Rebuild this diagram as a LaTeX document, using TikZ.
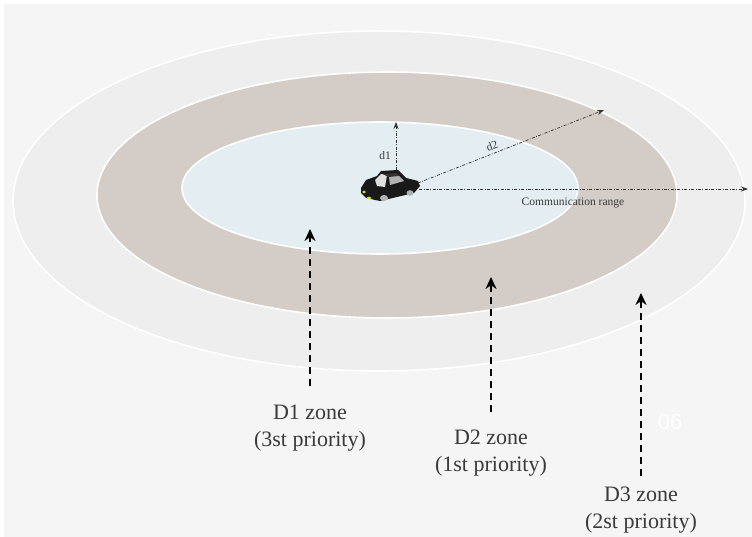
\documentclass[tikz,border=0pt]{standalone}
\usepackage{fontspec}
\setmainfont{Liberation Serif}
\newfontfamily\marksans{Liberation Sans}
\usetikzlibrary{arrows.meta}

\definecolor{bgcol}{HTML}{F5F5F5}
\definecolor{zoneDthree}{HTML}{EEEEEE}
\definecolor{zoneDtwo}{HTML}{D4CCC7}
\definecolor{zoneDone}{HTML}{E4EEF2}
\definecolor{inkgray}{HTML}{3A3A3A}

\tikzset{
  zone/.style={draw=white, line width=1.6pt},
  rangeline/.style={black!80, line width=0.7pt,
    dash pattern=on 3pt off 1.5pt on 0.8pt off 1.5pt,
    -{Stealth[length=7pt,width=5pt]}},
  zonearrow/.style={black, line width=2.8pt, dash pattern=on 7pt off 5pt,
    -{Stealth[length=12pt,width=11pt]}},
  zonelabel/.style={inkgray, font=\fontsize{22}{27}\selectfont, align=center},
  smalllabel/.style={inkgray, font=\fontsize{11.5}{13}\selectfont, inner sep=1pt},
}

\begin{document}
\begin{tikzpicture}[x=1pt, y=-1pt]
    \fill[white] (0,0) rectangle (752,537);
    \fill[bgcol] (4,4) rectangle (752,537);

    % the three zones, outermost first
    \draw[zone, fill=zoneDthree] (379,201) ellipse [x radius=366, y radius=170];
    \draw[zone, fill=zoneDtwo]   (387,195) ellipse [x radius=290, y radius=123];
    \draw[zone, fill=zoneDone]   (380,188) ellipse [x radius=198, y radius=66];

    % car
    \fill[black!90] (361,188) -- (366,180) -- (377,176) -- (381,171) -- (398,170)
        -- (406,178) -- (418,181) -- (420,186) -- (414,193) -- (380,201)
        -- (366,198) -- (361,193) -- cycle;
    \fill[white!75!gray] (375,180) -- (381,174) -- (387,175) -- (385,187) -- (377,186) -- cycle;
    \fill[gray!60] (389,177) -- (398,175) -- (404,181) -- (390,185) -- cycle;
    \fill[black!80] (383,174) -- (397,173) -- (399,176) -- (388,177) -- cycle;
    \fill[gray!60] (384,198) ellipse [x radius=4, y radius=3];
    \fill[gray!60] (410,193) ellipse [x radius=3.5, y radius=2.8];
    \fill[yellow!85!green] (364,192) ellipse [x radius=1.8, y radius=1.5];
    \fill[yellow!85!green] (369,198) ellipse [x radius=2, y radius=1.3];

    \coordinate (cartop)   at (396,170);
    \coordinate (carright) at (418,183);
    \coordinate (carrear)  at (419,189);
    \coordinate (d1end)    at (396,122);
    \coordinate (d2end)    at (604,110);
    \coordinate (rangeend) at (748,189);

    \draw[rangeline] (cartop)   -- (d1end);
    \draw[rangeline] (carright) -- (d2end);
    \draw[rangeline] (carrear)  -- (rangeend);

    \node[smalllabel] (d1) at (385,156) {d1};
    \node[smalllabel, rotate=18] (d2) at (492,146) {d2};
    \node[smalllabel] (range) at (573,203) {Communication range};

    % zone labels with their arrows
    \node[zonelabel] (zone1) at (310,428) {D1 zone\\(3st priority)};
    \node[zonelabel] (zone2) at (491,453) {D2 zone\\(1st priority)};
    \node[zonelabel] (zone3) at (641,510) {D3 zone\\(2st priority)};

    \coordinate (zone1foot) at (310,386);
    \coordinate (zone2foot) at (491,412);
    \coordinate (zone3foot) at (641,476);
    \coordinate (zone1tip) at (310,229);
    \coordinate (zone2tip) at (491,277);
    \coordinate (zone3tip) at (641,293);

    \draw[zonearrow] (zone1foot) -- (zone1tip);
    \draw[zonearrow] (zone2foot) -- (zone2tip);
    \draw[zonearrow] (zone3foot) -- (zone3tip);

    \node[white, font=\marksans\fontsize{22}{22}\selectfont] (mark) at (670,422) {06};
\end{tikzpicture}
\end{document}
